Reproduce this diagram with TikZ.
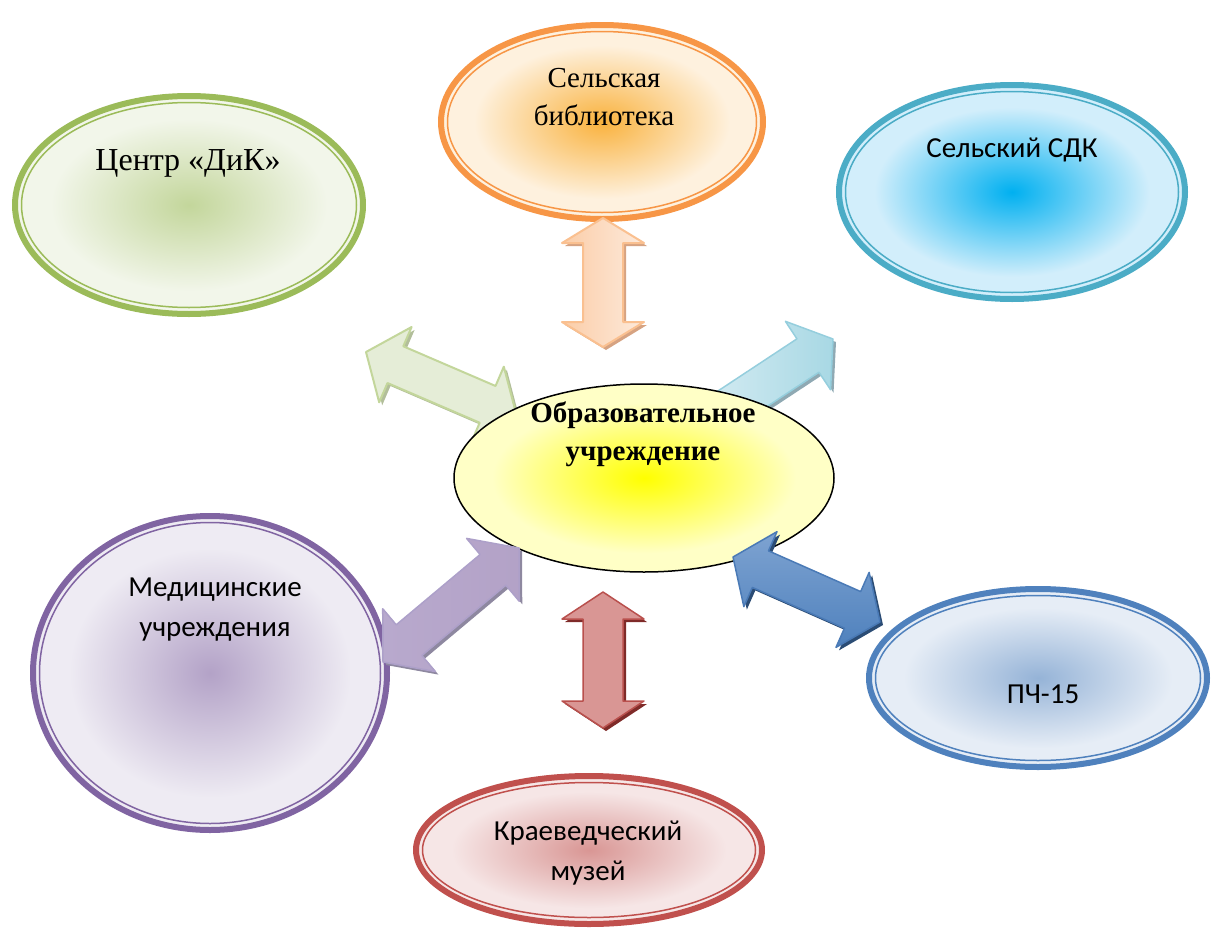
\documentclass[tikz,border=0pt]{standalone}
\usepackage{fontspec}
\setmainfont{Liberation Serif}
\newfontfamily\calibri{Carlito}
\usetikzlibrary{calc}
% oval colours: line, centre, rim
\definecolor{dikline}{HTML}{9BBB59}
\definecolor{dikin}{HTML}{C3D69B}
\definecolor{dikout}{HTML}{F2F6EA}
\definecolor{libline}{HTML}{F79646}
\definecolor{libin}{HTML}{F9B23E}
\definecolor{libout}{HTML}{FEF1DE}
\definecolor{sdkline}{HTML}{4BACC6}
\definecolor{sdkin}{HTML}{00B0F0}
\definecolor{sdkout}{HTML}{D2EEFB}
\definecolor{schin}{HTML}{FFFF00}
\definecolor{schout}{HTML}{FFFFC6}
\definecolor{medline}{HTML}{8064A2}
\definecolor{medin}{HTML}{B3A2C7}
\definecolor{medout}{HTML}{EEEBF3}
\definecolor{pchline}{HTML}{4F81BD}
\definecolor{pchin}{HTML}{95B3D7}
\definecolor{pchout}{HTML}{E6EDF6}
\definecolor{musline}{HTML}{C0504D}
\definecolor{musin}{HTML}{D99694}
\definecolor{musout}{HTML}{F6E6E6}
% arrow colours
\definecolor{grarrow}{HTML}{E5EDD7}
\definecolor{grshadow}{HTML}{B2BE9A}
\definecolor{cyline}{HTML}{95CEDD}
\definecolor{cyleft}{HTML}{DCEFF5}
\definecolor{cyright}{HTML}{A8D8E4}
\definecolor{cyshadow}{HTML}{8FA9B3}
\definecolor{orline}{HTML}{FAC090}
\definecolor{orleft}{HTML}{FBCDA8}
\definecolor{orright}{HTML}{FDEADB}
\definecolor{orshadow}{HTML}{D6A382}
\definecolor{rdline}{HTML}{B9504D}
\definecolor{rdshadow}{HTML}{7F2B29}
\definecolor{blline}{HTML}{4A7AB6}
\definecolor{bltop}{HTML}{7EA3D1}
\definecolor{blshadow}{HTML}{2B4C74}
\definecolor{puline}{HTML}{ADA0C9}
\definecolor{puleft}{HTML}{B8A9CD}
\definecolor{pumid}{HTML}{E5E0EC}
\definecolor{pushadow}{HTML}{8E88A0}
\colorlet{glowin}{white}
\colorlet{glowout}{white}
\pgfdeclareradialshading[glowin,glowout]{glow}{\pgfpointorigin}{%
  color(0bp)=(glowin); color(20bp)=(glowout); color(50bp)=(glowout)}

\newcommand{\arrowpath}[3]{(#1) -- ($(#1)!#3!(#2)!41pt!90:(#2)$) -- ($(#1)!#3!(#2)!20pt!90:(#2)$) -- ($(#2)!#3!(#1)!20pt!-90:(#1)$) -- ($(#2)!#3!(#1)!41pt!-90:(#1)$) -- (#2) -- ($(#2)!#3!(#1)!41pt!90:(#1)$) -- ($(#2)!#3!(#1)!20pt!90:(#1)$) -- ($(#1)!#3!(#2)!20pt!-90:(#2)$) -- ($(#1)!#3!(#2)!41pt!-90:(#2)$) -- cycle}
\newcommand{\blockarrow}[5]{%
  \fill[#5,transform canvas={xshift=3pt,yshift=-3pt}] \arrowpath{#1}{#2}{#3};
  \draw[#4] \arrowpath{#1}{#2}{#3};}
\newcommand{\ringoval}[6]{%
  \path[shade,shading=glow,/utils/exec={\colorlet{glowin}{#5}\colorlet{glowout}{#6}}] (#1) ellipse [x radius=#2-4, y radius=#3-4];
  \draw[#4,line width=6pt] (#1) ellipse [x radius=#2-3, y radius=#3-3];
  \draw[#4,line width=1.5pt] (#1) ellipse [x radius=#2-9.5, y radius=#3-9.5];}

\begin{document}
\begin{tikzpicture}[x=1pt,y=-1pt,line join=round,
  greenarr/.style={draw=dikin,fill=grarrow,line width=2pt},
  cyanarr/.style={draw=cyline,left color=cyleft,right color=cyright,line width=1.5pt},
  orangearr/.style={draw=orline,left color=orleft,right color=orright,line width=2pt},
  redarr/.style={draw=rdline,top color=musin,middle color=musline,bottom color=musin,line width=1.5pt},
  bluearr/.style={draw=blline,top color=bltop,bottom color=pchline,line width=1.5pt},
  purplearr/.style={draw=puline,left color=puleft,middle color=pumid,right color=medin,line width=1.5pt},
  seriflbl/.style={font=\fontsize{29}{38}\selectfont,align=center},
  boldlbl/.style={font=\bfseries\fontsize{29}{38}\selectfont,align=center},
  sanslbl/.style={font=\calibri\fontsize{29}{40}\selectfont,align=center}]
  \useasboundingbox (0,0) rectangle (1211,945);

  \coordinate (dikc) at (189,205);
  \coordinate (libc) at (602,122);
  \coordinate (sdkc) at (1012,192);
  \coordinate (schc) at (644,478);
  \coordinate (medc) at (210,673);
  \coordinate (pchc) at (1038,678);
  \coordinate (musc) at (589,850);

  \coordinate (gA) at (366,352);  \coordinate (gB) at (517,417);
  \coordinate (cA) at (680,440);  \coordinate (cB) at (833,339);
  \coordinate (oA) at (603,218);  \coordinate (oB) at (603,347);
  \coordinate (rA) at (603,592);  \coordinate (rB) at (603,728);
  \coordinate (bA) at (733,557);  \coordinate (bB) at (880,622);
  \coordinate (pA) at (519,548);  \coordinate (pB) at (383,662);

  % arrows behind the centre
  \blockarrow{gA}{gB}{32pt}{greenarr}{grshadow}
  \blockarrow{cA}{cB}{30pt}{cyanarr}{cyshadow}

  \ringoval{dikc}{177}{112}{dikline}{dikin}{dikout}
  \ringoval{libc}{164}{100}{libline}{libin}{libout}
  \ringoval{sdkc}{176}{110}{sdkline}{sdkin}{sdkout}
  \ringoval{medc}{180}{160}{medline}{medin}{medout}
  \ringoval{pchc}{172}{92}{pchline}{pchin}{pchout}
  \ringoval{musc}{176}{77}{musline}{musin}{musout}

  \path[shade,shading=glow,/utils/exec={\colorlet{glowin}{schin}\colorlet{glowout}{schout}}] (schc) ellipse [x radius=190, y radius=94];
  \draw[line width=1.5pt] (schc) ellipse [x radius=190, y radius=94];

  % arrows in front
  \blockarrow{oA}{oB}{25pt}{orangearr}{orshadow}
  \blockarrow{rA}{rB}{27pt}{redarr}{rdshadow}
  \blockarrow{bA}{bB}{30pt}{bluearr}{blshadow}
  \blockarrow{pA}{pB}{34pt}{purplearr}{pushadow}

  \node[font=\fontsize{32}{38}\selectfont] (dik) at (188,163) {Центр «ДиК»};
  \node[seriflbl] (lib) at (604,97) {Сельская\\библиотека};
  \node[sanslbl] (sdk) at (1012,150) {Сельский СДК};
  \node[boldlbl] (sch) at (643,434) {Образовательное\\учреждение};
  \node[sanslbl] (med) at (215,610) {Медицинские\\учреждения};
  \node[sanslbl] (pch) at (1043,694) {ПЧ-15};
  \node[sanslbl] (mus) at (588,853) {Краеведческий\\музей};
\end{tikzpicture}
\end{document}
